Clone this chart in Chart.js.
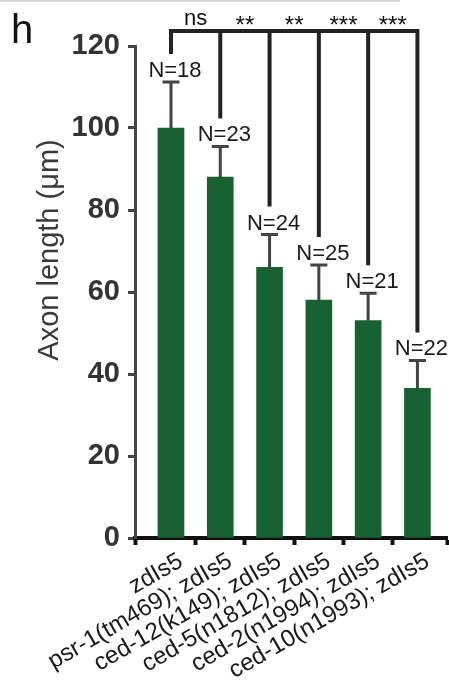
<!DOCTYPE html>
<html>
<head>
<meta charset="utf-8">
<script src="https://cdn.jsdelivr.net/npm/chart.js@4"></script>
<style>
body { margin: 0; background: #fff; }
</style>
</head>
<body>
<canvas id="axon" width="449" height="682"></canvas>
<script>
const strains = ['zdIs5', 'psr-1(tm469); zdIs5', 'ced-12(k149); zdIs5', 'ced-5(n1812); zdIs5', 'ced-2(n1994); zdIs5', 'ced-10(n1993); zdIs5'];
const axonLength = [100, 88, 66, 58, 53, 36.5];
const axonError = [11.2, 7.5, 8, 8.6, 6.7, 6.8];
const animalCount = [18, 23, 24, 25, 21, 22];
const significance = ['ns', '**', '**', '***', '***'];
const yTicks = [0, 20, 40, 60, 80, 100, 120];

const FONT = "'Liberation Sans', Arial, sans-serif";

// error bars, N labels, the comparison bracket and the loose text
const extras = {
    id: 'extras',
    beforeDraw(chart) {
        const ctx = chart.ctx;
        ctx.save();
        ctx.fillStyle = '#d6d6d6';
        ctx.fillRect(0, 0, 400, 2);
        ctx.fillStyle = '#111';
        ctx.font = '40px ' + FONT;
        ctx.textBaseline = 'alphabetic';
        ctx.fillText('h', 11, 43);
        ctx.restore();
    },
    afterDatasetsDraw(chart) {
        const ctx = chart.ctx;
        const xs = chart.scales.x, ys = chart.scales.y;
        const cx = axonLength.map((v, i) => xs.getPixelForValue(i));
        const capY = axonLength.map((v, i) => ys.getPixelForValue(v + axonError[i]));
        ctx.save();

        // error bars (upper half only)
        ctx.strokeStyle = '#444';
        ctx.lineWidth = 3;
        axonLength.forEach((v, i) => {
            ctx.beginPath();
            ctx.moveTo(cx[i], ys.getPixelForValue(v));
            ctx.lineTo(cx[i], capY[i]);
            ctx.moveTo(cx[i] - 8.5, capY[i]);
            ctx.lineTo(cx[i] + 8.5, capY[i]);
            ctx.stroke();
        });

        // N labels
        ctx.fillStyle = '#1a1a1a';
        ctx.font = '22px ' + FONT;
        ctx.textAlign = 'center';
        ctx.textBaseline = 'alphabetic';
        animalCount.forEach((n, i) => {
            ctx.fillText('N=' + n, cx[i] + 4, capY[i] - 5);
        });

        // bracket
        const topY = 31;
        ctx.strokeStyle = '#222';
        ctx.lineWidth = 4;
        ctx.lineJoin = 'miter';
        ctx.beginPath();
        const last = cx.length - 1;
        ctx.moveTo(cx[0], capY[0] - 28);
        ctx.lineTo(cx[0], topY);
        ctx.lineTo(cx[last], topY);
        ctx.lineTo(cx[last], capY[last] - 28);
        ctx.stroke();
        for (let i = 1; i < last; i++) {
            ctx.beginPath();
            ctx.moveTo(cx[i], topY);
            ctx.lineTo(cx[i], capY[i] - 28);
            ctx.stroke();
        }

        // significance marks
        ctx.fillStyle = '#111';
        significance.forEach((s, i) => {
            const mx = (cx[i] + cx[i + 1]) / 2;
            if (s === 'ns') {
                ctx.font = '22px ' + FONT;
                ctx.fillText(s, mx, 25);
            } else {
                ctx.font = '24px ' + FONT;
                ctx.fillText(s, mx, 33);
            }
        });

        // y axis title
        ctx.translate(50, 250);
        ctx.rotate(-Math.PI / 2);
        ctx.fillStyle = '#3a3a3a';
        ctx.font = '29px ' + FONT;
        ctx.textBaseline = 'middle';
        ctx.fillText('Axon length (\u03bcm)', 0, 0);
        ctx.restore();
    }
};

let axonCtx = document.getElementById('axon').getContext('2d');
let axonChart = new Chart(axonCtx, {
    type: 'bar',
    data: {
        datasets: [{
            data: axonLength.map((v, i) => ({x: i, y: v})),
            backgroundColor: '#186232',
            barThickness: 26
        }]
    },
    options: {
        responsive: false,
        animation: false,
        layout: { padding: { top: 46, right: 2, left: 0, bottom: 0 } },
        plugins: { legend: { display: false }, tooltip: { enabled: false } },
        scales: {
            x: {
                type: 'linear',
                offset: false,
                min: -0.73,
                max: 5.6,
                afterBuildTicks: scale => {
                    const ticks = [{value: scale.min}];
                    strains.forEach((s, i) => {
                        ticks.push({value: i});
                        if (i < strains.length - 1) ticks.push({value: i + 0.5});
                    });
                    ticks.push({value: scale.max});
                    scale.ticks = ticks;
                },
                afterFit: scale => {
                    scale.height = 144;
                    scale.paddingLeft = 0;
                    scale.paddingRight = 0;
                },
                ticks: {
                    autoSkip: false,
                    minRotation: 30,
                    maxRotation: 30,
                    padding: 2,
                    labelOffset: 10,
                    color: '#1a1a1a',
                    font: { family: FONT, size: 24 },
                    callback: v => (Number.isInteger(v) && v >= 0) ? strains[v] : ''
                },
                grid: {
                    offset: false,
                    drawOnChartArea: false,
                    tickLength: 7,
                    tickWidth: 4,
                    color: c => (c.tick && Number.isInteger(c.tick.value)) ? 'rgba(0,0,0,0)' : '#111'
                },
                border: { color: '#111', width: 4 }
            },
            y: {
                min: 0,
                max: 120,
                afterBuildTicks: scale => { scale.ticks = yTicks.map(v => ({value: v})); },
                afterFit: scale => { scale.width = 135; },
                ticks: {
                    padding: 8,
                    color: '#333',
                    font: { family: FONT, size: 29, weight: 'bold' }
                },
                grid: {
                    drawOnChartArea: false,
                    tickLength: 7,
                    tickWidth: 3,
                    color: '#444'
                },
                border: { color: '#444', width: 3 }
            }
        }
    },
    plugins: [extras]
});
</script>
</body>
</html>
